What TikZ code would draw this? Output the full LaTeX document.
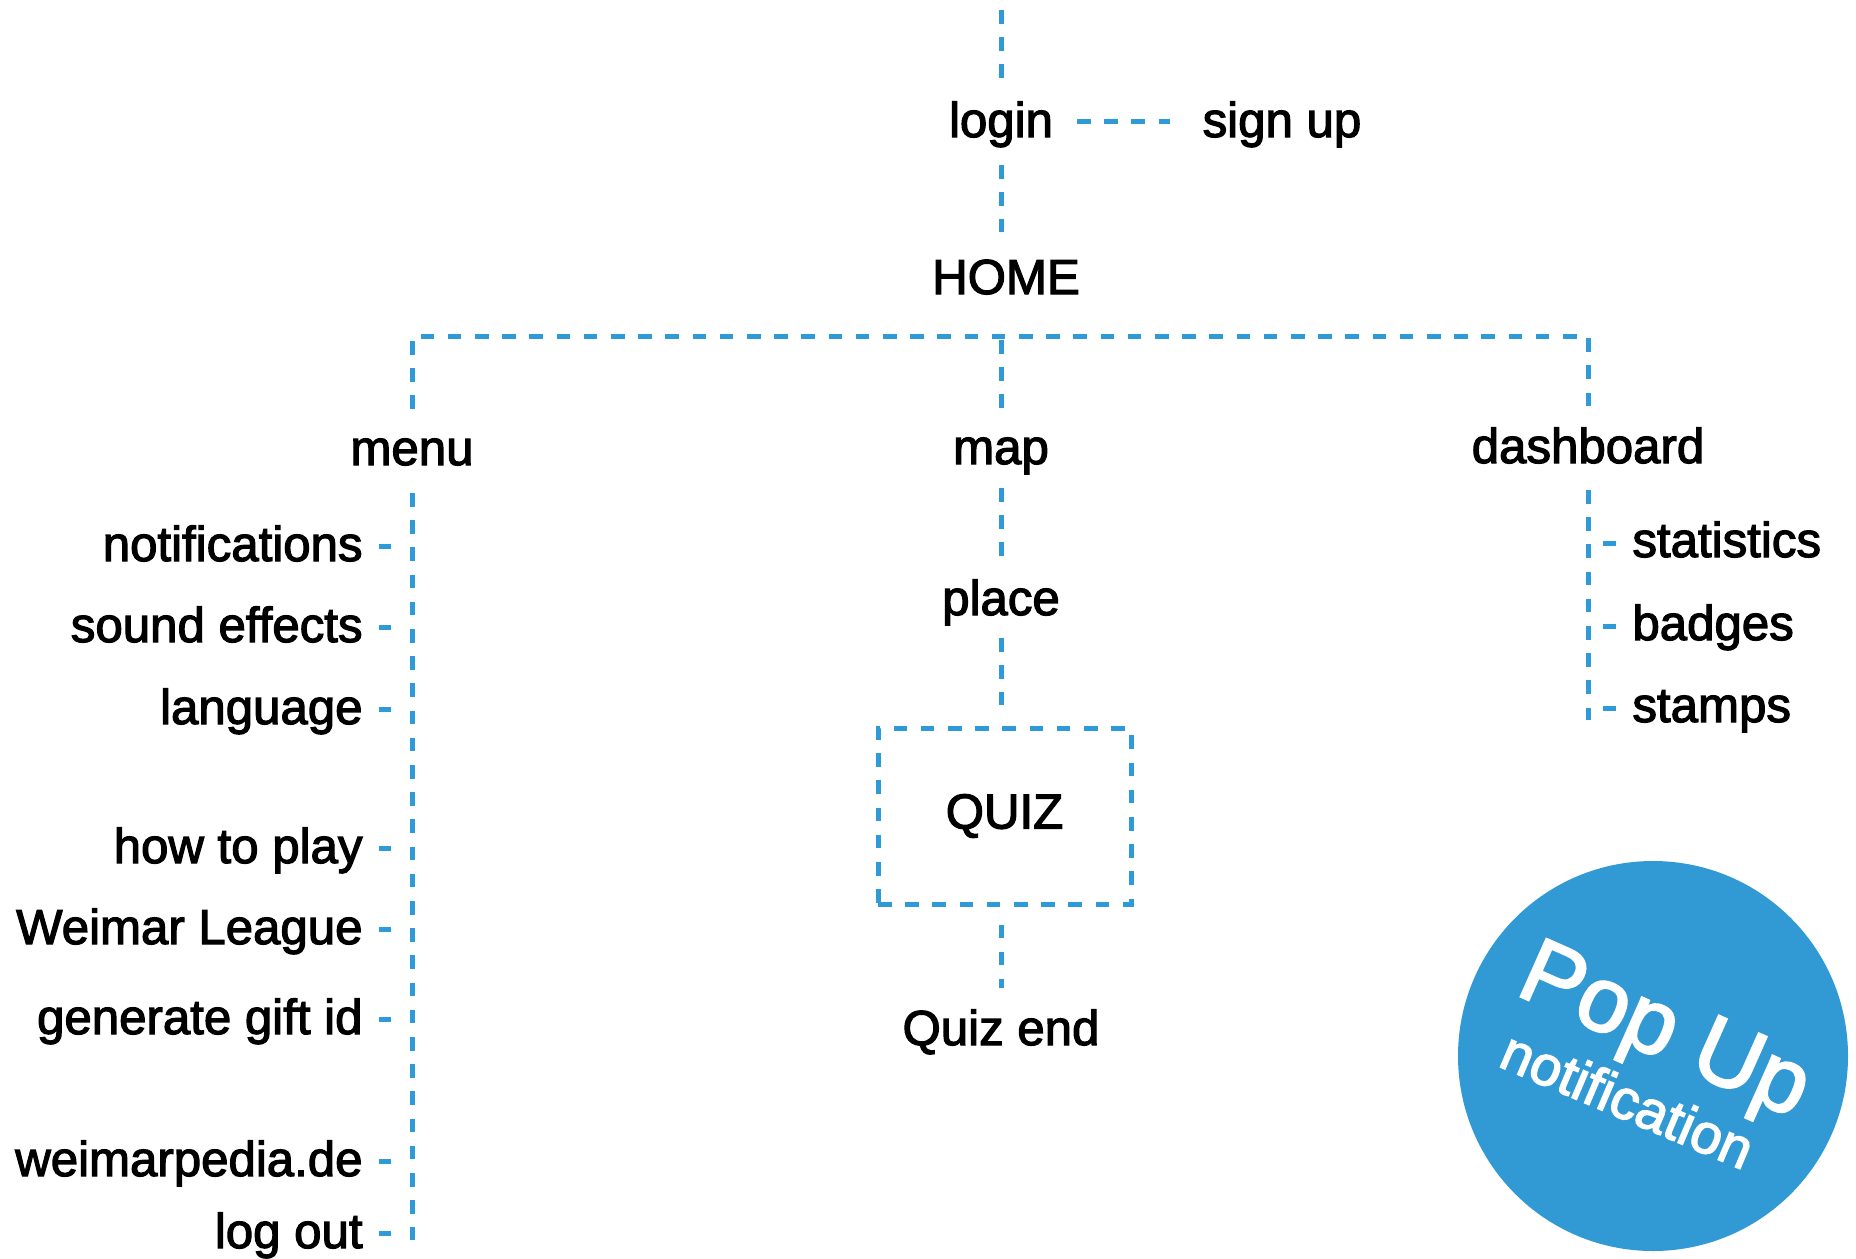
\documentclass[tikz,border=0pt]{standalone}
\usepackage{fontspec}
\setmainfont{Liberation Sans}
\newfontfamily\medfont{Liberation Sans}[FakeBold=2.4]
\usetikzlibrary{calc}
\definecolor{lineblue}{RGB}{46,155,216}
\definecolor{popblue}{RGB}{49,154,213}
\tikzset{
  conn/.style={draw=lineblue, line width=2.5pt, dash pattern=on 6.8pt off 6.8pt},
  lbl/.style={inner sep=0pt, anchor=base, font=\medfont\fontsize{24.6}{30}\selectfont},
  litem/.style={lbl, anchor=base east},
  ritem/.style={lbl, anchor=base west},
}
\begin{document}
\begin{tikzpicture}[x=0.5pt,y=-0.5pt]
\useasboundingbox (0,0) rectangle (1856,1258);
% top
\coordinate (topend) at (1001,10);
\node[lbl] (login) at (1001,137) {login};
\node[lbl] (signup) at (1282,137) {sign up};
\node[lbl] (home) at (1006,294) {HOME};
\draw[conn] (topend) -- ($(login.base)+(0,-59)$);
\draw[conn] ($(login.base)+(76,-16)$) -- ($(signup.base)+(-112,-16)$);
\draw[conn] ($(login.base)+(0,28)$) -- ($(home.base)+(-5,-62)$);
% level 2
\node[lbl] (menu) at (412,465) {menu};
\node[lbl] (map) at (1001,464) {map};
\node[lbl] (dash) at (1588,463) {dashboard};
\draw[conn] ($(menu.base)+(0,-56)$) -- ($(menu.base)+(0,-129)$) -| ($(dash.base)+(0,-56)$);
\draw[conn] ($(map.base)+(0,-56)$) -- ($(map.base)+(0,-128)$);
% map branch
\node[lbl] (place) at (1001,615) {place};
\node[lbl, anchor=center, draw=lineblue, line width=2.5pt, dash pattern=on 6.8pt off 6.8pt,
      minimum width=126.5pt, minimum height=88pt] (quiz) at (1004.5,816) {QUIZ};
\node[lbl] (quizend) at (1001,1045) {Quiz end};
\draw[conn] ($(map.base)+(0,24)$) -- ($(place.base)+(0,-58)$);
\draw[conn] ($(place.base)+(0,23)$) -- ($(quiz.north)+(-3.5,-21)$);
\draw[conn] ($(quiz.south)+(-3.5,18)$) -- ($(quizend.base)+(0,-57)$);
% menu branch
\coordinate (menuend) at (412,1240);
\draw[conn] ($(menu.base)+(0,28)$) -- (menuend);
\foreach \n/\t/\y in {n1/notifications/561, n2/sound effects/642, n3/language/724,
  n4/how to play/863, n5/Weimar League/944, n6/generate gift id/1034,
  n7/weimarpedia.de/1176, n8/log out/1248}{
  \node[litem] (\n) at (363,\y) {\t};
  \draw[draw=lineblue, line width=2.5pt] ($(\n.base east)+(16,-15)$) -- ($(\n.base east)+(28,-15)$);
}
% dashboard branch
\coordinate (dashend) at (1588,720);
\draw[conn] ($(dash.base)+(0,27)$) -- (dashend);
\foreach \n/\t/\y in {d1/statistics/557, d2/badges/640, d3/stamps/722}{
  \node[ritem] (\n) at (1632,\y) {\t};
  \draw[draw=lineblue, line width=2.5pt] ($(\n.base west)+(-29,-14)$) -- ($(\n.base west)+(-16,-14)$);
}
% pop up badge
\node[circle, fill=popblue, minimum size=195pt, inner sep=0pt] (pop) at (1653,1056) {};
\node[inner sep=0pt, anchor=base, rotate=-24, text=white,
      font=\medfont\fontsize{46}{54}\selectfont] (poptxt) at (1654,1056) {Pop Up};
\node[inner sep=0pt, anchor=base, rotate=-23, text=white,
      font=\medfont\fontsize{28}{34}\selectfont] (notiftxt) at (1620,1118) {notification};
\end{tikzpicture}
\end{document}
